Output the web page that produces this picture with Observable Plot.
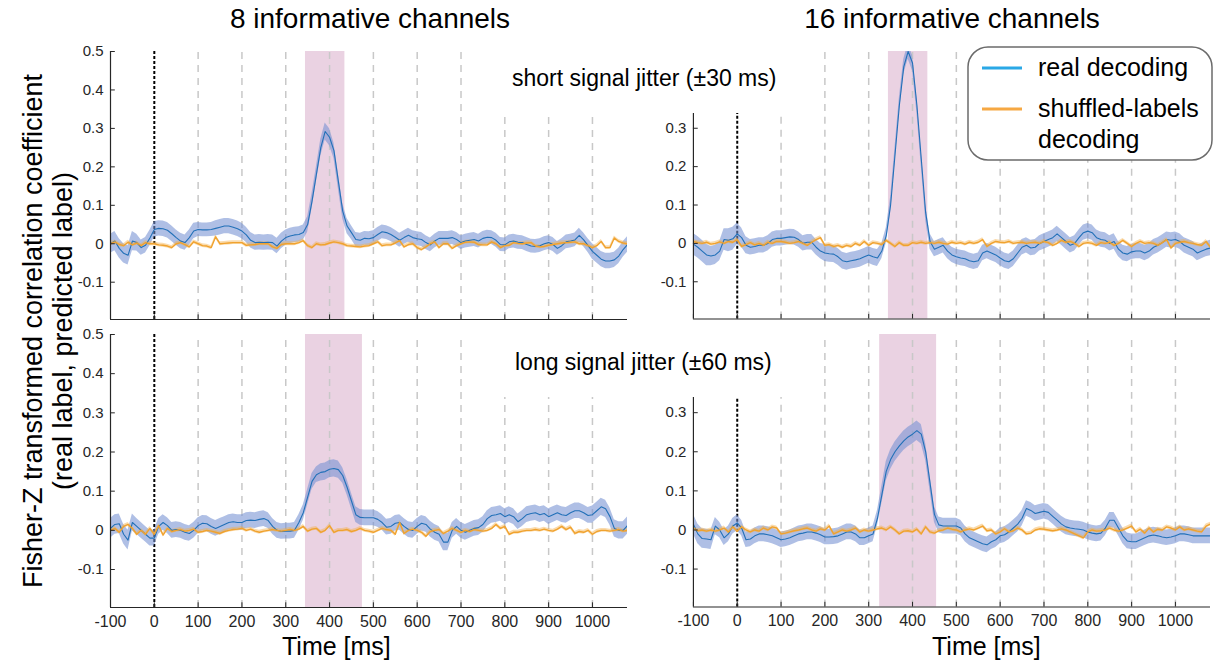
<!DOCTYPE html>
<html><head><meta charset="utf-8">
<script src="https://cdn.jsdelivr.net/npm/d3@7"></script>
<script src="https://cdn.jsdelivr.net/npm/@observablehq/plot@0.6"></script>
<style>
body{margin:0;background:#fff;}
#fig{position:relative;width:1214px;height:662px;overflow:hidden;background:#fff;font-family:"Liberation Sans",Arial,Helvetica,sans-serif;}
.panel{position:absolute;}
#overlay{position:absolute;left:0;top:0;pointer-events:none;}
</style></head>
<body><div id="fig"></div>
<script>
// ---------------- data ----------------
const times = d3.range(-100, 1081, 10); // sample times [ms]
const gridTimes = [100,200,300,400,500,600,700,800,900,1000];
const xTickValues = [-100,0,100,200,300,400,500,600,700,800,900,1000];
const xTickLabels = ["-100","0","100","200","300","400","500","600","700","800","900","1000"];
const yTickValuesLeft = [-0.1,0,0.1,0.2,0.3,0.4,0.5];
const yTickLabelsLeft = ["-0.1","0","0.1","0.2","0.3","0.4","0.5"];
const yTickValuesRight = [-0.1,0,0.1,0.2,0.3];
const yTickLabelsRight = ["-0.1","0","0.1","0.2","0.3"];
const xDomain = [-100, 1080];
const yDomain = [-0.197, 0.5];
const yAxisTopLeft = 0.5;
const yAxisTopRight = 0.34;

const panelTitles = ["8 informative channels", "16 informative channels"];
const rowLabels = ["short signal jitter (\u00b130 ms)", "long signal jitter (\u00b160 ms)"];
const seriesNames = ["real decoding", "shuffled-labels", "decoding"];
const xLabel = "Time [ms]";
const yLabel = ["Fisher-Z transformed correlation coefficient", "(real label, predicted label)"];

// significance windows [start, end] ms
const windowTL = [345, 435];
const windowTR = [345, 435];
const windowBL = [345, 475];
const windowBR = [325, 455];

// top-left: 8 channels, short jitter
const blueTL = [
 0.0,0.007,-0.012,-0.025,-0.03,0.007,0.003,-0.01,-0.004,0.015,
 0.037,0.04,0.039,0.035,0.026,0.016,0.007,0.003,0.016,0.033,
 0.037,0.036,0.036,0.037,0.04,0.043,0.046,0.046,0.043,0.039,
 0.033,0.023,0.009,0.003,0.004,0.003,0.004,0.003,-0.006,0.007,
 0.016,0.02,0.023,0.024,0.029,0.05,0.111,0.181,0.25,0.292,
 0.277,0.242,0.163,0.085,0.046,0.029,0.011,0.009,0.014,0.013,
 0.016,0.024,0.031,0.029,0.024,0.017,0.009,0.016,0.022,0.016,
 0.013,0.011,0.003,-0.003,0.007,0.014,0.014,0.014,0.016,0.011,
 0.003,0.007,0.009,0.011,0.007,0.014,0.017,0.016,0.009,-0.002,
 -0.003,0.005,0.007,0.004,0.003,-0.002,-0.006,-0.007,-0.005,0.0,
 0.003,-0.002,-0.012,-0.005,0.005,0.007,0.01,0.022,0.01,-0.005,
 -0.02,-0.03,-0.04,-0.045,-0.045,-0.042,-0.032,-0.015,-0.002];
const blueSemTL = [
 0.025,0.025,0.025,0.025,0.025,0.025,0.022,0.02,0.02,0.02,
 0.02,0.02,0.02,0.02,0.02,0.02,0.02,0.02,0.02,0.02,
 0.018,0.018,0.018,0.018,0.02,0.02,0.02,0.02,0.02,0.02,
 0.02,0.02,0.02,0.02,0.02,0.02,0.02,0.02,0.02,0.02,
 0.02,0.02,0.02,0.02,0.02,0.02,0.02,0.02,0.022,0.022,
 0.022,0.02,0.02,0.02,0.02,0.018,0.018,0.018,0.018,0.018,
 0.018,0.018,0.018,0.018,0.018,0.018,0.018,0.018,0.018,0.018,
 0.018,0.018,0.018,0.018,0.018,0.018,0.018,0.018,0.018,0.018,
 0.018,0.018,0.018,0.018,0.018,0.018,0.018,0.018,0.018,0.018,
 0.018,0.018,0.018,0.018,0.018,0.018,0.018,0.018,0.018,0.018,
 0.018,0.018,0.018,0.018,0.018,0.018,0.018,0.018,0.018,0.018,
 0.02,0.02,0.02,0.02,0.02,0.02,0.02,0.02,0.02];
const orangeTL = [
 0.0,0.005,-0.002,-0.005,0.004,-0.003,0.002,-0.005,0.003,0.0,
 0.0,-0.003,-0.004,-0.006,-0.01,0.0,0.003,-0.002,-0.008,0.005,
 0.0,-0.005,-0.006,-0.01,0.018,0.0,0.001,0.002,0.003,0.003,
 0.003,-0.004,-0.003,-0.002,0.0,0.0,0.0,-0.008,-0.012,-0.002,
 0.0,0.0,0.0,0.003,0.008,-0.005,-0.01,0.0,-0.003,-0.002,
 0.002,0.005,0.003,0.0,-0.005,-0.006,-0.007,-0.008,-0.006,-0.005,
 0.0,0.005,-0.005,-0.003,-0.003,0.002,0.008,-0.008,-0.002,0.0,
 -0.01,-0.015,-0.008,0.0,0.005,-0.01,0.0,0.0,-0.012,-0.005,
 0.0,0.004,0.005,0.004,-0.002,-0.003,-0.003,0.005,0.0,-0.01,
 -0.005,-0.004,0.003,0.001,0.0,0.002,0.003,-0.006,-0.008,-0.007,
 -0.004,-0.002,0.0,0.002,0.003,0.004,0.005,0.0,0.0,-0.005,
 -0.01,-0.005,0.006,-0.01,-0.01,0.015,0.006,0.002,0.0];

// top-right: 16 channels, short jitter
const blueTR = [
 -0.002,-0.01,-0.02,-0.03,-0.033,-0.03,-0.02,0.01,0.008,0.012,
 0.025,0.015,-0.005,-0.01,-0.008,-0.005,-0.005,0.0,0.01,0.013,
 0.013,0.015,0.017,0.016,0.01,0.0,0.003,0.003,-0.01,-0.02,
 -0.025,-0.027,-0.028,-0.035,-0.045,-0.048,-0.045,-0.043,-0.04,-0.035,
 -0.03,-0.035,-0.038,-0.02,0.02,0.1,0.23,0.36,0.46,0.5,
 0.47,0.36,0.22,0.08,0.005,-0.015,-0.01,-0.005,-0.02,-0.03,
 -0.035,-0.038,-0.04,-0.045,-0.048,-0.045,-0.025,-0.02,-0.025,-0.03,
 -0.038,-0.045,-0.048,-0.04,-0.025,-0.01,-0.005,-0.012,-0.01,0.0,
 0.005,0.01,0.015,0.025,0.015,0.005,-0.005,0.0,0.015,0.028,
 0.032,0.028,0.015,0.01,0.008,0.0,0.005,-0.015,-0.025,-0.028,
 -0.022,-0.02,-0.02,-0.025,-0.02,-0.01,-0.005,0.002,0.01,0.008,
 0.01,0.005,-0.005,-0.01,-0.015,-0.025,-0.02,-0.015,-0.012];
const blueSemTR = [
 0.028,0.028,0.028,0.028,0.025,0.025,0.025,0.028,0.03,0.03,
 0.028,0.025,0.022,0.02,0.02,0.02,0.02,0.02,0.02,0.02,
 0.02,0.02,0.02,0.02,0.02,0.02,0.02,0.02,0.02,0.02,
 0.022,0.022,0.022,0.022,0.022,0.022,0.022,0.022,0.022,0.022,
 0.022,0.022,0.022,0.02,0.02,0.02,0.02,0.02,0.02,0.02,
 0.02,0.02,0.02,0.02,0.02,0.02,0.02,0.02,0.02,0.02,
 0.02,0.02,0.02,0.02,0.02,0.02,0.02,0.02,0.02,0.02,
 0.02,0.02,0.02,0.02,0.02,0.02,0.02,0.02,0.02,0.02,
 0.02,0.02,0.02,0.02,0.02,0.02,0.02,0.02,0.02,0.02,
 0.02,0.02,0.02,0.02,0.02,0.02,0.02,0.02,0.02,0.02,
 0.02,0.02,0.02,0.02,0.02,0.02,0.02,0.02,0.02,0.02,
 0.02,0.02,0.02,0.02,0.02,0.02,0.02,0.02,0.02];
const orangeTR = [
 0.005,0.002,0.0,0.003,-0.002,0.0,0.004,0.0,0.005,0.003,
 0.01,-0.008,-0.003,0.002,-0.004,0.0,-0.005,0.003,0.0,0.005,
 0.005,0.003,0.0,0.002,0.005,0.0,-0.005,0.003,0.01,0.015,
 -0.005,-0.003,-0.008,-0.005,-0.01,-0.005,-0.008,0.0,-0.005,0.005,
 -0.005,0.002,0.0,-0.003,0.008,0.0,-0.008,0.002,-0.005,-0.005,
 0.002,0.0,0.003,0.0,0.002,0.0,0.003,0.0,-0.002,0.003,
 0.0,0.002,-0.002,0.003,0.0,0.003,0.01,-0.008,0.0,0.005,
 0.003,0.002,0.005,0.0,0.002,0.003,0.0,0.002,0.003,0.0,
 0.005,0.002,-0.005,0.0,0.008,0.003,0.005,0.0,-0.008,0.0,
 0.002,0.0,-0.005,0.002,0.0,0.003,-0.005,0.0,0.008,0.0,
 -0.008,0.0,0.005,0.0,0.002,0.0,-0.005,0.002,0.01,-0.012,
 0.0,0.003,0.005,0.002,0.0,-0.003,-0.005,0.005,-0.01];

// bottom-left: 8 channels, long jitter
const blueBL = [
 0.005,0.015,0.017,-0.01,-0.025,0.02,0.01,0.0,-0.01,-0.02,
 -0.02,0.01,0.02,0.012,0.0,0.002,0.0,-0.005,-0.008,0.0,
 0.012,0.018,0.017,0.01,0.005,0.01,0.015,0.02,0.022,0.02,
 0.02,0.025,0.026,0.025,0.028,0.03,0.025,0.01,0.0,-0.003,
 -0.002,-0.002,0.0,0.02,0.045,0.085,0.125,0.142,0.148,0.15,
 0.156,0.158,0.155,0.14,0.11,0.075,0.04,0.033,0.032,0.032,
 0.032,0.028,0.02,0.008,0.01,0.018,0.02,0.01,0.002,0.0,
 0.01,0.018,0.015,0.003,-0.005,-0.01,-0.03,-0.03,0.0,0.01,
 0.0,-0.005,0.0,0.005,0.007,0.015,0.03,0.038,0.04,0.043,
 0.035,0.04,0.035,0.022,0.03,0.04,0.043,0.045,0.04,0.043,
 0.035,0.04,0.045,0.04,0.038,0.045,0.05,0.05,0.045,0.038,
 0.04,0.05,0.06,0.055,0.035,0.005,0.0,0.0,0.012];
const blueSemBL = [
 0.025,0.025,0.025,0.025,0.025,0.022,0.02,0.02,0.02,0.02,
 0.02,0.02,0.02,0.02,0.02,0.02,0.02,0.02,0.02,0.02,
 0.02,0.02,0.02,0.02,0.02,0.02,0.02,0.02,0.02,0.02,
 0.02,0.02,0.02,0.02,0.02,0.02,0.02,0.02,0.02,0.02,
 0.02,0.02,0.02,0.02,0.02,0.02,0.02,0.02,0.022,0.022,
 0.022,0.022,0.022,0.02,0.02,0.02,0.02,0.02,0.02,0.02,
 0.02,0.02,0.02,0.02,0.02,0.02,0.02,0.02,0.02,0.02,
 0.02,0.02,0.02,0.02,0.02,0.02,0.022,0.022,0.02,0.02,
 0.02,0.02,0.02,0.02,0.02,0.02,0.02,0.02,0.02,0.02,
 0.02,0.02,0.02,0.02,0.02,0.02,0.02,0.02,0.02,0.02,
 0.02,0.02,0.02,0.02,0.02,0.02,0.02,0.02,0.02,0.02,
 0.022,0.022,0.022,0.022,0.022,0.022,0.022,0.022,0.022];
const orangeBL = [
 0.0,0.005,-0.005,0.01,0.015,0.005,-0.01,0.0,-0.01,0.005,
 -0.01,0.012,-0.012,0.005,-0.003,0.0,0.002,-0.002,0.0,0.003,
 -0.005,-0.003,0.0,-0.002,-0.005,-0.008,-0.003,0.0,0.002,0.003,
 0.005,0.0,0.003,-0.002,-0.005,-0.002,0.0,0.002,0.0,-0.002,
 0.0,0.002,0.0,0.003,0.01,-0.002,0.003,0.005,-0.005,0.0,
 0.012,-0.005,0.0,0.0,0.002,-0.003,0.0,0.005,0.0,-0.002,
 -0.005,0.0,0.005,0.002,0.0,-0.01,0.02,-0.008,0.0,0.003,
 0.0,-0.005,-0.015,-0.003,0.0,0.002,-0.008,-0.002,0.005,0.0,
 -0.005,0.0,-0.003,0.002,0.0,-0.002,0.0,0.005,0.015,0.005,
 0.01,-0.01,-0.005,-0.005,-0.002,0.0,0.0,0.002,0.0,0.003,
 0.0,-0.002,0.003,0.01,0.002,0.008,-0.008,-0.003,-0.005,0.0,
 -0.01,-0.003,0.0,0.0,-0.002,0.0,0.002,-0.002,0.0];

// bottom-right: 16 channels, long jitter
const blueBR = [
 0.015,-0.01,-0.022,-0.023,-0.025,0.01,0.0,-0.02,-0.01,0.01,
 0.018,0.005,-0.025,-0.023,-0.015,-0.01,-0.01,-0.012,-0.015,-0.02,
 -0.025,-0.023,-0.02,-0.015,-0.01,-0.008,-0.005,-0.005,-0.008,-0.012,
 -0.018,-0.018,-0.017,-0.015,-0.01,-0.005,-0.005,-0.01,-0.02,-0.02,
 -0.015,-0.01,0.03,0.09,0.15,0.18,0.2,0.215,0.228,0.238,
 0.245,0.254,0.245,0.2,0.12,0.04,0.013,0.01,0.01,0.01,
 0.01,0.005,-0.01,-0.02,-0.025,-0.03,-0.035,-0.038,-0.03,-0.025,
 -0.015,-0.012,-0.005,0.005,0.015,0.03,0.055,0.05,0.042,0.045,
 0.048,0.045,0.035,0.025,0.015,0.008,0.005,0.003,0.002,0.0,
 -0.005,-0.008,-0.01,-0.008,0.005,0.025,0.025,0.005,-0.015,-0.028,
 -0.03,-0.03,-0.025,-0.02,-0.015,-0.013,-0.015,-0.018,-0.02,-0.018,
 -0.015,-0.01,-0.01,-0.012,-0.015,-0.015,-0.015,-0.015,-0.015];
const blueSemBR = [
 0.025,0.025,0.025,0.025,0.025,0.022,0.02,0.02,0.02,0.02,
 0.02,0.02,0.02,0.02,0.02,0.02,0.02,0.02,0.02,0.02,
 0.02,0.02,0.02,0.02,0.02,0.02,0.02,0.02,0.02,0.02,
 0.02,0.02,0.02,0.02,0.02,0.02,0.02,0.02,0.02,0.02,
 0.02,0.02,0.02,0.022,0.025,0.025,0.025,0.025,0.025,0.025,
 0.025,0.025,0.025,0.022,0.02,0.02,0.02,0.02,0.02,0.02,
 0.02,0.02,0.02,0.02,0.02,0.02,0.02,0.02,0.02,0.02,
 0.02,0.02,0.02,0.02,0.02,0.02,0.02,0.02,0.02,0.02,
 0.02,0.02,0.02,0.02,0.02,0.02,0.02,0.02,0.02,0.02,
 0.02,0.02,0.02,0.02,0.02,0.02,0.02,0.02,0.02,0.02,
 0.02,0.02,0.02,0.02,0.02,0.02,0.02,0.02,0.02,0.02,
 0.02,0.02,0.02,0.02,0.02,0.02,0.02,0.02,0.02];
const orangeBR = [
 0.005,-0.002,0.0,-0.003,0.0,-0.003,0.0,0.005,-0.005,0.008,
 -0.003,0.008,0.0,-0.005,0.0,-0.003,0.005,0.0,0.008,0.005,
 -0.01,-0.008,-0.005,-0.002,0.0,0.003,0.005,0.0,-0.003,0.003,
 0.0,0.01,-0.01,-0.005,0.0,-0.003,0.0,0.005,-0.005,0.0,
 -0.003,0.0,0.003,0.005,0.0,0.008,0.0,-0.01,-0.003,-0.002,
 -0.005,0.002,-0.01,0.008,-0.005,-0.008,-0.002,0.0,0.005,0.002,
 0.0,-0.005,0.0,0.003,0.0,0.005,0.01,-0.002,0.0,-0.01,
 -0.005,0.003,-0.005,-0.002,0.005,0.0,-0.01,-0.008,0.0,0.003,
 0.002,0.0,-0.002,0.0,0.003,0.0,-0.005,-0.01,-0.015,-0.02,
 -0.005,0.0,-0.003,-0.002,0.0,0.005,0.0,-0.003,0.0,0.005,
 0.01,-0.005,0.002,-0.008,0.005,-0.005,0.002,0.0,0.008,0.005,
 0.0,0.008,0.0,0.003,0.0,-0.003,-0.005,0.01,0.015];
const orangeSem = 0.005;

// ---------------- drawing ----------------
const fig = document.getElementById("fig");
const FONT = '"Liberation Sans", Arial, Helvetica, sans-serif';
const AX = "#262626";

function panel(cfg) {
  [cfg.blue, cfg.blueSem, cfg.orange].forEach(a => { if (a.length !== times.length) throw new Error("length " + a.length + " in " + cfg.name); });
  const blue = times.map((t, i) => ({t, v: cfg.blue[i], lo: cfg.blue[i] - cfg.blueSem[i], hi: cfg.blue[i] + cfg.blueSem[i]}));
  const orange = times.map((t, i) => ({t, v: cfg.orange[i], lo: cfg.orange[i] - orangeSem, hi: cfg.orange[i] + orangeSem}));
  const y0 = yDomain[0], y1 = yDomain[1];
  const marks = [
    Plot.rect([cfg.win], {x1: d => d[0], x2: d => d[1], y1: y0, y2: y1, fill: "#ead2e2"}),
    Plot.ruleX(gridTimes, {y1: y0, y2: y1, stroke: "#c8c8c8", strokeWidth: 1.5, strokeDasharray: "7,6"}),
    Plot.ruleX([0], {y1: y0, y2: cfg.axisTop, stroke: "#000", strokeWidth: 2, strokeDasharray: "3,2"}),
    Plot.areaY(blue, {x: "t", y1: "lo", y2: "hi", fill: "#7690d2", fillOpacity: 0.58, clip: true}),
    Plot.areaY(orange, {x: "t", y1: "lo", y2: "hi", fill: "#f4b04a", fillOpacity: 0.45, clip: true}),
    Plot.lineY(blue, {x: "t", y: "v", stroke: "#2270b8", strokeWidth: 1.1, clip: true}),
    Plot.lineY(orange, {x: "t", y: "v", stroke: "#f0a22e", strokeWidth: 1.4, clip: true}),
    Plot.ruleX([xDomain[0]], {y1: y0, y2: cfg.axisTop, stroke: AX, strokeWidth: 1.2}),
    Plot.ruleY([y0], {stroke: AX, strokeWidth: 1.2}),
    Plot.ruleY(cfg.yTicks, {x1: xDomain[0], x2: xDomain[0] + 11, stroke: AX}),
    Plot.ruleX(xTickValues, {y1: y0, y2: y0 + 0.012, stroke: AX}),
    Plot.axisY({ticks: cfg.yTicks, tickSize: 0, tickPadding: 7, tickFormat: d => cfg.yLabels[cfg.yTicks.indexOf(d)], label: null, fontSize: 15, fill: AX})
  ];
  if (cfg.xLabels) marks.push(Plot.axisX({ticks: xTickValues, tickSize: 0, tickPadding: 8, tickFormat: d => xTickLabels[xTickValues.indexOf(d)], label: null, fontSize: 16, fill: AX}));
  const mL = 50, mR = 4, mT = 6, mB = cfg.xLabels ? 34 : 6;
  const svg = Plot.plot({
    width: mL + cfg.w + mR, height: mT + cfg.h + mB,
    marginLeft: mL, marginRight: mR, marginTop: mT, marginBottom: mB,
    x: {domain: xDomain, axis: cfg.xLabels ? undefined : null},
    y: {domain: yDomain},
    style: {fontFamily: FONT, fontSize: "16px", color: AX, background: "transparent", overflow: "visible"},
    marks
  });
  const div = document.createElement("div");
  div.className = "panel";
  div.style.left = (cfg.left - mL) + "px";
  div.style.top = (cfg.top - mT) + "px";
  div.appendChild(svg);
  fig.appendChild(div);
}

const leftAxis = {yTicks: yTickValuesLeft, yLabels: yTickLabelsLeft, axisTop: yAxisTopLeft};
const rightAxis = {yTicks: yTickValuesRight, yLabels: yTickLabelsRight, axisTop: yAxisTopRight};
panel({name: "TL", ...leftAxis, blue: blueTL, blueSem: blueSemTL, orange: orangeTL, win: windowTL, left: 110, top: 51, w: 517, h: 268, xLabels: false});
panel({name: "TR", ...rightAxis, blue: blueTR, blueSem: blueSemTR, orange: orangeTR, win: windowTR, left: 693, top: 51, w: 518, h: 268, xLabels: false});
panel({name: "BL", ...leftAxis, blue: blueBL, blueSem: blueSemBL, orange: orangeBL, win: windowBL, left: 110, top: 334, w: 517, h: 273, xLabels: true});
panel({name: "BR", ...rightAxis, blue: blueBR, blueSem: blueSemBR, orange: orangeBR, win: windowBR, left: 693, top: 334, w: 518, h: 273, xLabels: true});

// ---------------- text, annotation boxes, legend ----------------
const ov = `
<svg id="overlay" width="1214" height="662" xmlns="http://www.w3.org/2000/svg" font-family='${FONT}'>
  <text x="370" y="28" font-size="28" text-anchor="middle" fill="#000">${panelTitles[0]}</text>
  <text x="952" y="28" font-size="28" text-anchor="middle" fill="#000">${panelTitles[1]}</text>
  <rect x="485" y="40" width="320" height="73" fill="#fff"/>
  <text x="512" y="86" font-size="23" fill="#000">${rowLabels[0]}</text>
  <rect x="485" y="324" width="320" height="73" fill="#fff"/>
  <text x="515" y="370" font-size="23" fill="#000">${rowLabels[1]}</text>
  <text x="282" y="655" font-size="25" fill="#000">${xLabel}</text>
  <text x="932" y="655" font-size="25" fill="#000">${xLabel}</text>
  <text transform="translate(42,331) rotate(-90)" font-size="27" text-anchor="middle" fill="#000">${yLabel[0]}</text>
  <text transform="translate(72,331) rotate(-90)" font-size="27" text-anchor="middle" fill="#000">${yLabel[1]}</text>
  <rect x="968" y="47" width="244" height="113" rx="20" ry="20" fill="#fff" stroke="#6b6b6b" stroke-width="1.5"/>
  <line x1="982" x2="1022" y1="68" y2="68" stroke="#2aa8e6" stroke-width="3"/>
  <line x1="982" x2="1022" y1="109" y2="109" stroke="#f6a843" stroke-width="3"/>
  <text x="1038" y="76" font-size="25" fill="#000">${seriesNames[0]}</text>
  <text x="1038" y="117" font-size="25" fill="#000">${seriesNames[1]}</text>
  <text x="1038" y="148" font-size="25" fill="#000">${seriesNames[2]}</text>
</svg>`;
fig.insertAdjacentHTML("beforeend", ov);
</script>
</body></html>
